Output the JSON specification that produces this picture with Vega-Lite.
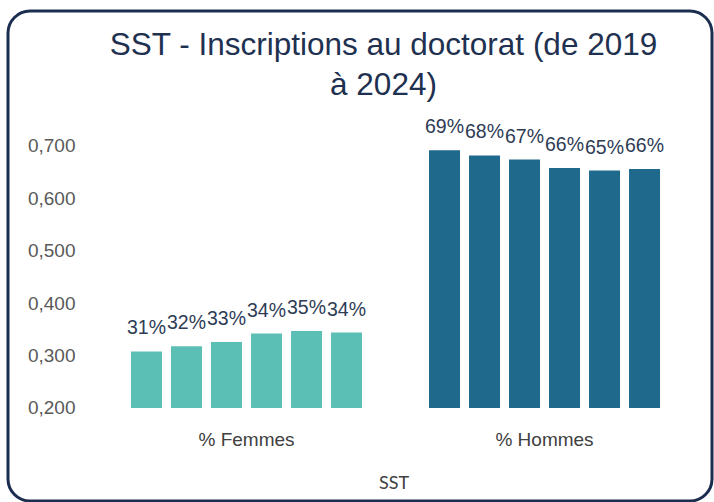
{
  "$schema": "https://vega.github.io/schema/vega-lite/v6.json",
  "width": 704,
  "height": 490,
  "autosize": {"type": "none"},
  "padding": {"left": 8, "top": 11, "right": 2, "bottom": 1},
  "background": "white",
  "title": {
    "text": ["SST - Inscriptions au doctorat (de 2019", "à 2024)"],
    "font": "Liberation Sans",
    "fontSize": 31.5,
    "fontWeight": "normal",
    "color": "#1f3150",
    "anchor": "middle",
    "frame": "group",
    "dx": 23.5,
    "lineHeight": 40,
    "baseline": "top",
    "offset": -90
  },
  "data": {
    "values": [
      {"group": "% Femmes", "year": 2019, "value": 0.308},
      {"group": "% Femmes", "year": 2020, "value": 0.318},
      {"group": "% Femmes", "year": 2021, "value": 0.326},
      {"group": "% Femmes", "year": 2022, "value": 0.342},
      {"group": "% Femmes", "year": 2023, "value": 0.347},
      {"group": "% Femmes", "year": 2024, "value": 0.344},
      {"group": "% Hommes", "year": 2019, "value": 0.692},
      {"group": "% Hommes", "year": 2020, "value": 0.682},
      {"group": "% Hommes", "year": 2021, "value": 0.674},
      {"group": "% Hommes", "year": 2022, "value": 0.658},
      {"group": "% Hommes", "year": 2023, "value": 0.653},
      {"group": "% Hommes", "year": 2024, "value": 0.656}
    ]
  },
  "encoding": {
    "x": {
      "field": "group",
      "type": "nominal",
      "sort": ["% Femmes", "% Hommes"],
      "scale": {"paddingInner": 0.1946, "paddingOuter": 0.2785, "align": 0.714},
      "axis": {
        "labelFont": "Liberation Sans",
        "labelFontSize": 19,
        "labelColor": "#404040",
        "labelAngle": 0,
        "labelBaseline": "alphabetic",
        "labelPadding": 0,
        "offset": -56,
        "ticks": false,
        "tickSize": 0,
        "domain": false,
        "grid": false,
        "title": "SST",
        "titleFont": "Lato",
        "titleFontSize": 18,
        "titleFontWeight": "normal",
        "titleColor": "#404040",
        "titleX": 385.5,
        "titleY": 43,
        "titleBaseline": "alphabetic"
      }
    },
    "xOffset": {
      "field": "year",
      "type": "ordinal",
      "scale": {"paddingInner": 0.225, "paddingOuter": 0.1125}
    },
    "y": {
      "field": "value",
      "type": "quantitative",
      "scale": {"domain": [0.0225, 0.9576], "nice": false, "zero": false},
      "axis": {
        "values": [0.2, 0.3, 0.4, 0.5, 0.6, 0.7],
        "labelExpr": "replace(format(datum.value, '.3f'), '.', ',')",
        "labelFont": "Liberation Sans",
        "labelFontSize": 19,
        "labelColor": "#595959",
        "labelPadding": 2,
        "offset": -69,
        "ticks": false,
        "tickSize": 0,
        "domain": false,
        "grid": false,
        "title": null
      }
    }
  },
  "layer": [
    {
      "mark": {"type": "bar"},
      "encoding": {
        "y2": {"datum": 0.2},
        "color": {
          "field": "group",
          "type": "nominal",
          "scale": {"domain": ["% Femmes", "% Hommes"], "range": ["#5bbfb5", "#1f6a8c"]},
          "legend": null
        }
      }
    },
    {
      "mark": {"type": "text", "baseline": "alphabetic", "dy": -17, "font": "Liberation Sans", "fontSize": 19.5, "color": "#2e3b55"},
      "encoding": {
        "text": {"field": "value", "type": "quantitative", "format": ".0%"}
      }
    }
  ],
  "config": {
    "view": {"stroke": "#1c2e4f", "strokeWidth": 3, "cornerRadius": 22}
  }
}
